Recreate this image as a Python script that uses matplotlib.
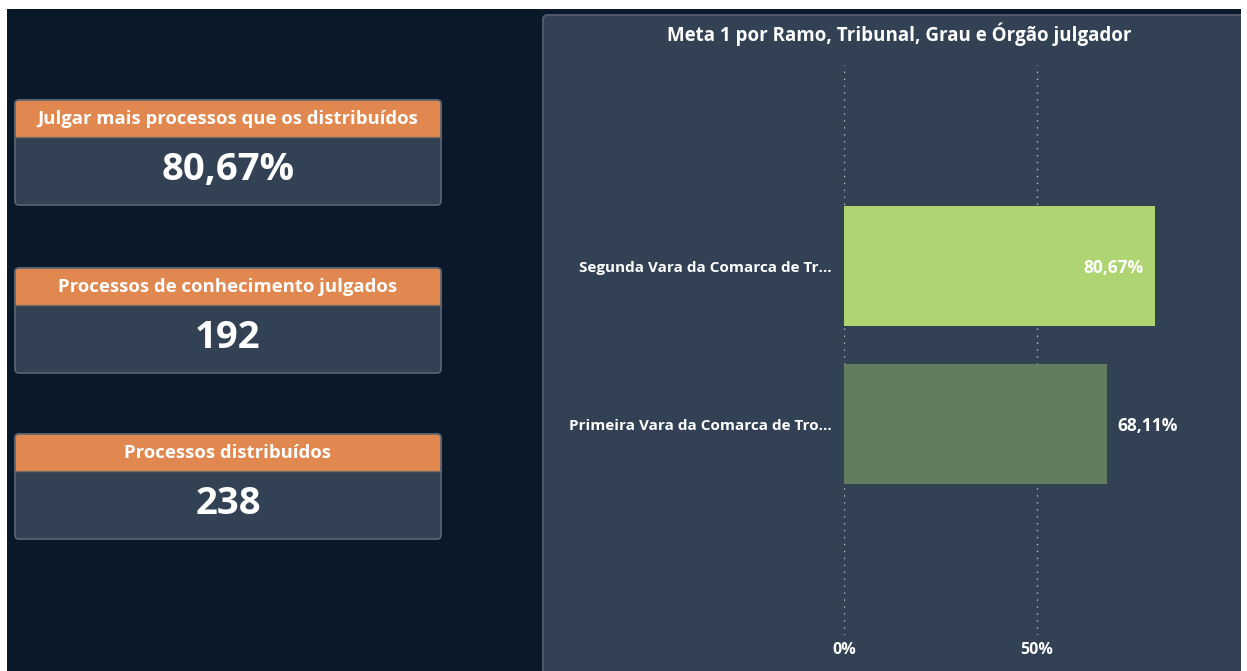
import matplotlib
matplotlib.use("Agg")
import matplotlib.pyplot as plt
from matplotlib.patches import FancyBboxPatch, Rectangle

# data
card_titles = ["Julgar mais processos que os distribuídos",
               "Processos de conhecimento julgados",
               "Processos distribuídos"]
card_values = ["80,67%", "192", "238"]

categories = ["Segunda Vara da Comarca de Tr...",
              "Primeira Vara da Comarca de Tro..."]
pct = [80.67, 68.11]
bar_colors = ["#afd572", "#637b5e"]
ticks = [0, 50]
tick_labels = ["0%", "50%"]

BG = "#0a1929"
PANEL = "#334155"
ORANGE = "#e0884f"
EDGE = "#5b6572"
FONT = "Open Sans"

W, H = 1247, 671
fig = plt.figure(figsize=(W / 100, H / 100), dpi=100, facecolor="white")

# pixel-space canvas for the dashboard frame
bg = fig.add_axes([0, 0, 1, 1])
bg.set_xlim(0, W)
bg.set_ylim(H, 0)
bg.axis("off")
bg.add_patch(Rectangle((7, 9), 1234, 662, color=BG, lw=0))

# KPI cards
card_tops = [100, 268, 434]
for top, title, val in zip(card_tops, card_titles, card_values):
    bg.add_patch(FancyBboxPatch((15, top), 426, 105,
                                boxstyle="round,pad=0,rounding_size=4",
                                fc=PANEL, ec=EDGE, lw=1.2))
    bg.add_patch(FancyBboxPatch((15, top), 426, 37,
                                boxstyle="round,pad=0,rounding_size=4",
                                fc=ORANGE, ec=EDGE, lw=1.2))
    bg.add_patch(Rectangle((15.6, top + 20), 424.8, 17, fc=ORANGE, lw=0))
    bg.plot([15, 441], [top + 37, top + 37], color="#7a6a5a", lw=1)
    bg.text(228, top + 19, title, ha="center", va="center", color="white",
            fontsize=13.3, fontweight="bold", family=FONT)
    bg.text(228, top + 70, val, ha="center", va="center", color="white",
            fontsize=27.5, fontweight="bold", family=FONT)

# chart panel
bg.add_patch(FancyBboxPatch((543, 15), 720, 680,
                            boxstyle="round,pad=0,rounding_size=5",
                            fc=PANEL, ec="#4e5a6a", lw=1.5))
bg.add_patch(Rectangle((1241, 0), 10, H, color="white", lw=0, zorder=5))
bg.text(899, 34, "Meta 1 por Ramo, Tribunal, Grau e Órgão julgador",
        ha="center", va="center", color="white", fontsize=13.5,
        fontweight="bold", family=FONT)

# bar chart axes: 0% at x=844, 50% at x=1037
x0, x50 = 844, 1037
px_per = (x50 - x0) / 50
ytop, ybot = 65, 635
ax = fig.add_axes([x0 / W, 1 - ybot / H, (1241 - x0) / W, (ybot - ytop) / H])
ax.set_facecolor("none")
ax.set_xlim(0, (1241 - x0) / px_per)
ax.set_ylim(2.335, -1.272)
for s in ax.spines.values():
    s.set_visible(False)

for t in ticks:
    ax.axvline(t, color="#b8bec8", lw=1, ls=(0, (1, 4)), zorder=0)

ypos = list(range(len(categories)))
ax.barh(ypos, pct, height=0.76, color=bar_colors, zorder=2)

ax.set_yticks(ypos)
ax.set_yticklabels(categories, color="white", fontsize=11,
                   fontweight="bold", family=FONT)
ax.tick_params(axis="y", length=0, pad=9)
ax.set_xticks(ticks)
ax.set_xticklabels(tick_labels, color="white", fontsize=11.5,
                   fontweight="bold", family=FONT)
ax.tick_params(axis="x", length=0, pad=5)

ax.text(pct[0] - 3, 0.01, "80,67%", ha="right", va="center", color="white",
        fontsize=12.5, fontweight="bold", family=FONT, zorder=3)
ax.text(pct[1] + 2.8, 1.01, "68,11%", ha="left", va="center", color="white",
        fontsize=12.5, fontweight="bold", family=FONT, zorder=3)

fig.savefig("out.png", dpi=100, facecolor=fig.get_facecolor())
